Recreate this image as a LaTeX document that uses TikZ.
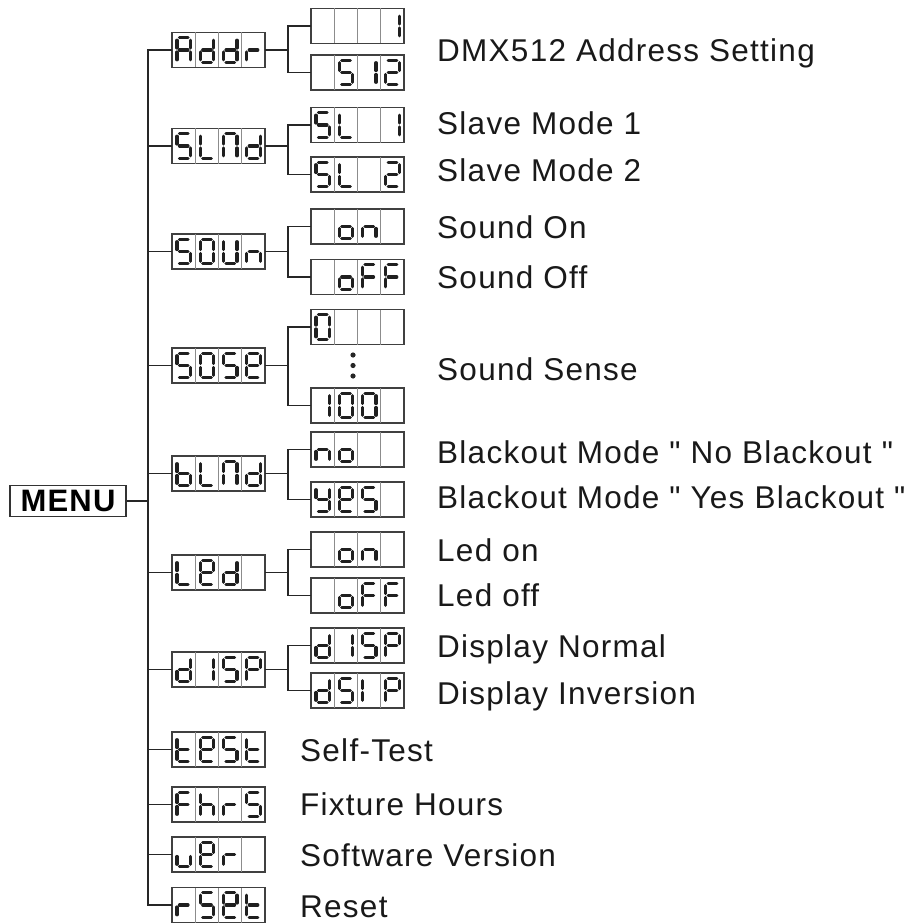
\documentclass[tikz,border=0pt]{standalone}
\usepackage{fontspec}
\setmainfont{Liberation Sans}[LetterSpace=4, Ligatures=TeXOff]
\usetikzlibrary{calc}

% seven-segment glyphs: a top, b/c right, d bottom, e/f left, g middle
\newcommand{\defglyph}[2]{\expandafter\def\csname lcdglyph#1\endcsname{#2}}
\defglyph{A}{a,b,c,e,f,g}
\defglyph{b}{c,d,e,f,g}
\defglyph{d}{b,c,d,e,g}
\defglyph{E}{a,b,d,e,f,g}
\defglyph{F}{a,e,f,g}
\defglyph{h}{c,e,f,g}
\defglyph{i}{e,f}
\defglyph{L}{d,e,f}
\defglyph{N}{a,b,c,e,f}
\defglyph{n}{c,e,g}
\defglyph{o}{c,d,e,g}
\defglyph{P}{a,b,e,f,g}
\defglyph{r}{e,g}
\defglyph{t}{d,e,f,g}
\defglyph{U}{b,c,d,e,f}
\defglyph{u}{c,d,e}
\defglyph{Y}{b,c,d,f,g}
\defglyph{0}{a,b,c,d,e,f}
\defglyph{1}{b,c}
\defglyph{2}{a,b,d,e,g}
\defglyph{5}{a,c,d,f,g}
\defglyph{-}{x}

% fill the four cells of a display node: \lcdtext{node}{g1,g2,g3,g4}
\newcommand{\lcdtext}[2]{%
  \foreach \g [count=\i from 0] in {#2}{%
    \begin{scope}[shift={(#1.north west)}, xshift=\i*23.25]
      \ifnum\i>0 \draw[celldiv] (0,0) -- (0,35);\fi
      \edef\segs{\csname lcdglyph\g\endcsname}%
      \foreach \s in \segs {%
        \if\s a\draw[seg] (7.5,5.2) -- (16,5.2);\fi
        \if\s b\draw[seg] (18.5,7.7) -- (18.5,15.5);\fi
        \if\s c\draw[seg] (18.5,19.5) -- (18.5,27.3);\fi
        \if\s d\draw[seg] (7.5,29.8) -- (16,29.8);\fi
        \if\s e\draw[seg] (5,19.5) -- (5,27.3);\fi
        \if\s f\draw[seg] (5,7.7) -- (5,15.5);\fi
        \if\s g\draw[seg] (7.5,17.5) -- (16,17.5);\fi
      }
    \end{scope}
  }}

\begin{document}
\begin{tikzpicture}[x=1pt, y=-1pt,
  lcd/.style={draw=black!75, line width=1.3pt, minimum width=93pt, minimum height=35pt, inner sep=0pt, outer sep=0pt},
  seg/.style={line width=3.2pt, line cap=round, black!88},
  celldiv/.style={black!45, line width=1pt},
  wire/.style={black!85, line width=1.6pt},
  lbl/.style={anchor=base west, inner sep=0pt, font=\fontsize{31.5}{36}\selectfont, text=black!90},
  menubox/.style={draw=black!80, line width=1.4pt, minimum width=116pt, minimum height=31pt, inner sep=0pt, font=\bfseries\fontsize{31}{36}\selectfont}
]
  \useasboundingbox (0,0) rectangle (917,923);

  % root of the menu
  \node[menubox] (menu) at (68,501) {MENU};

  % first level displays
  \node[lcd] (addr) at (218.5,50) {};
  \node[lcd] (slnd) at (218.5,146) {};
  \node[lcd] (soun) at (218.5,251.5) {};
  \node[lcd] (sose) at (218.5,365.5) {};
  \node[lcd] (blnd) at (218.5,473.5) {};
  \node[lcd] (led)  at (218.5,572.5) {};
  \node[lcd] (disp) at (218.5,669.5) {};
  \node[lcd] (test) at (218.5,749.5) {};
  \node[lcd] (fhrs) at (218.5,804.5) {};
  \node[lcd] (ver)  at (218.5,854.5) {};
  \node[lcd] (rset) at (218.5,905) {};

  % second level displays
  \node[lcd] (addr1) at (357.5,26) {};
  \node[lcd] (addr2) at (357.5,72.5) {};
  \node[lcd] (slnd1) at (357.5,125) {};
  \node[lcd] (slnd2) at (357.5,174.5) {};
  \node[lcd] (soun1) at (357.5,226.5) {};
  \node[lcd] (soun2) at (357.5,277) {};
  \node[lcd] (sose1) at (357.5,327) {};
  \node[lcd] (sose2) at (357.5,405.5) {};
  \node[lcd] (blnd1) at (357.5,449.5) {};
  \node[lcd] (blnd2) at (357.5,499.5) {};
  \node[lcd] (led1)  at (357.5,549.5) {};
  \node[lcd] (led2)  at (357.5,595.5) {};
  \node[lcd] (disp1) at (357.5,645.5) {};
  \node[lcd] (disp2) at (357.5,690.5) {};

  % what the displays show
  \lcdtext{addr}{A,d,d,r}
  \lcdtext{slnd}{5,L,N,d}
  \lcdtext{soun}{5,0,U,n}
  \lcdtext{sose}{5,0,5,E}
  \lcdtext{blnd}{b,L,N,d}
  \lcdtext{led}{L,E,d,-}
  \lcdtext{disp}{d,1,5,P}
  \lcdtext{test}{t,E,5,t}
  \lcdtext{fhrs}{F,h,r,5}
  \lcdtext{ver}{u,E,r,-}
  \lcdtext{rset}{r,5,E,t}
  \lcdtext{addr1}{-,-,-,1}
  \lcdtext{addr2}{-,5,1,2}
  \lcdtext{slnd1}{5,L,-,1}
  \lcdtext{slnd2}{5,L,-,2}
  \lcdtext{soun1}{-,o,n,-}
  \lcdtext{soun2}{-,o,F,F}
  \lcdtext{sose1}{0,-,-,-}
  \lcdtext{sose2}{1,0,0,-}
  \lcdtext{blnd1}{n,o,-,-}
  \lcdtext{blnd2}{Y,E,5,-}
  \lcdtext{led1}{-,o,n,-}
  \lcdtext{led2}{-,o,F,F}
  \lcdtext{disp1}{d,1,5,P}
  \lcdtext{disp2}{d,5,i,P}

  % values skipped between 0 and 100
  \foreach \yy in {355,365.5,376}
    \fill[black!85] (353,\yy) circle (2.6pt);

  % spine and branches
  \coordinate (spine) at (148,0);
  \draw[wire] (addr.west) -- (addr.west -| spine) |- (rset.west);
  \foreach \n in {slnd,soun,sose,blnd,led,disp,test,fhrs,ver}
    \draw[wire] (\n.west) -- (\n.west -| spine);
  \draw[wire] (menu.east) -- (menu.east -| spine);
  \foreach \n in {addr,slnd,soun,sose,blnd,led,disp}{
    \coordinate (\n-br) at ($(\n1.west)+(-23,0)$);
    \draw[wire] (\n.east) -- (\n.east -| \n-br);
    \draw[wire] (\n1.west) -- (\n-br) |- (\n2.west);
  }

  % descriptions
  \node[lbl] (t-addr)  at (437,62)  {DMX512 Address Setting};
  \node[lbl] (t-slnd1) at (437,135) {Slave Mode 1};
  \node[lbl] (t-slnd2) at (437,181) {Slave Mode 2};
  \node[lbl] (t-soun1) at (437,238) {Sound On};
  \node[lbl] (t-soun2) at (437,288) {Sound Off};
  \node[lbl] (t-sose)  at (437,380) {Sound Sense};
  \node[lbl] (t-blnd1) at (437,463) {Blackout Mode " No Blackout "};
  \node[lbl] (t-blnd2) at (437,508) {Blackout Mode " Yes Blackout "};
  \node[lbl] (t-led1)  at (437,561) {Led on};
  \node[lbl] (t-led2)  at (437,606) {Led off};
  \node[lbl] (t-disp1) at (437,657) {Display Normal};
  \node[lbl] (t-disp2) at (437,704) {Display Inversion};
  \node[lbl] (t-test)  at (300,761) {Self-Test};
  \node[lbl] (t-fhrs)  at (300,815) {Fixture Hours};
  \node[lbl] (t-ver)   at (300,866) {Software Version};
  \node[lbl] (t-rset)  at (300,917) {Reset};
\end{tikzpicture}
\end{document}
